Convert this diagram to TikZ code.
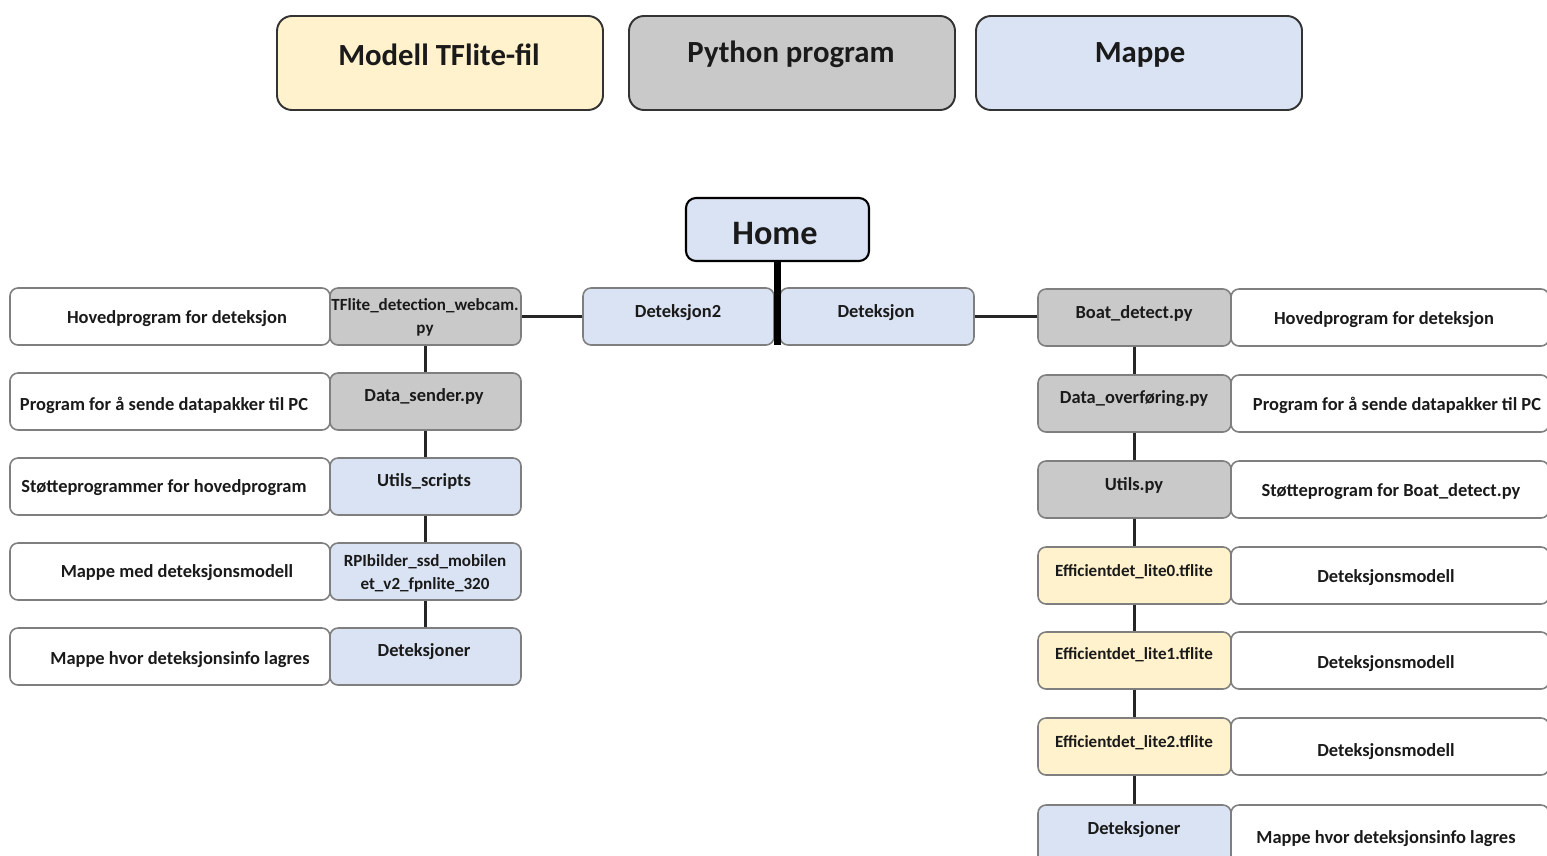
\documentclass[tikz,border=0pt]{standalone}
\usepackage{fontspec}
\setmainfont{Carlito}
\definecolor{tfy}{HTML}{FFF2CC}
\definecolor{pyg}{HTML}{C9C9C9}
\definecolor{dirb}{HTML}{DAE3F3}
\definecolor{edgegray}{HTML}{7F7F7F}
\definecolor{ink}{HTML}{1A1A1A}
% box given by its corners in pixel units
\newcommand{\bx}[6]{\node[#6, minimum width={(#4-#2)*0.02cm}, minimum height={(#5-#3)*0.02cm}] (#1) at ({(#2+#4)/2},{(#3+#5)/2}) {};}
\tikzset{
  legendbox/.style={draw=black!80, line width=1.1pt, rounded corners=0.3cm, inner sep=0},
  homebox/.style={draw=black, line width=1.2pt, rounded corners=0.2cm, fill=dirb, inner sep=0},
  itembox/.style={draw=edgegray, line width=0.9pt, rounded corners=0.16cm, inner sep=0},
  descbox/.style={itembox, fill=white},
  pybox/.style={itembox, fill=pyg},
  dirbox/.style={itembox, fill=dirb},
  tfbox/.style={itembox, fill=tfy},
  lbl/.style={font=\bfseries\fontsize{10.5}{12}\selectfont, text=ink, inner sep=0, align=center, yshift=-1pt},
  plbl/.style={lbl, font=\bfseries\fontsize{10.5}{13}\selectfont},
  slbl/.style={lbl, font=\bfseries\fontsize{9.7}{13}\selectfont},
  biglbl/.style={lbl, font=\bfseries\fontsize{17.5}{20}\selectfont},
  link/.style={line width=1.7pt, black!85},
  hublink/.style={line width=3.6pt, black},
}
\begin{document}
\begin{tikzpicture}[x=0.02cm, y=-0.02cm]
\useasboundingbox (0,0) rectangle (1547,855);
\clip (0,0) rectangle (1547,855);

% legend
\bx{lgtf}{277}{16}{603}{110}{legendbox, fill=tfy}
\bx{lgpy}{629}{16}{955}{110}{legendbox, fill=pyg}
\bx{lgdir}{976}{16}{1302}{110}{legendbox, fill=dirb}
\node[biglbl] (lgtft) at (439,53) {Modell TFlite-fil};
\node[biglbl] (lgpyt) at (791,53) {Python program};
\node[biglbl] (lgdirt) at (1140,53) {Mappe};

% root and the two project folders
\bx{home}{686}{198}{869}{261}{homebox}
\node[lbl, font=\bfseries\fontsize{19.5}{24}\selectfont] (homet) at (775,232) {Home};
\bx{det2}{583}{288}{774}{345}{dirbox}
\bx{det}{780}{288}{974}{345}{dirbox}
\node[plbl] (det2t) at (678,311) {Deteksjon2};
\node[plbl] (dett) at (876,311) {Deteksjon};
\coordinate (hub) at (777.5,345);
\draw[hublink] (home.south) -- (hub);

% Deteksjon2 column: descriptions
\bx{ld1}{10}{288}{330}{345}{descbox}
\bx{ld2}{10}{373}{330}{430}{descbox}
\bx{ld3}{10}{458}{330}{515}{descbox}
\bx{ld4}{10}{543}{330}{600}{descbox}
\bx{ld5}{10}{628}{330}{685}{descbox}
\node[lbl] at (177,317) {Hovedprogram for deteksjon};
\node[lbl] at (164,404) {Program for å sende datapakker til PC};
\node[lbl] at (164,486) {Støtteprogrammer for hovedprogram};
\node[lbl] at (177,571) {Mappe med deteksjonsmodell};
\node[lbl] at (180,658) {Mappe hvor deteksjonsinfo lagres};

% Deteksjon2 column: files and folders
\bx{tfl}{330}{288}{521}{345}{pybox}
\bx{sender}{330}{373}{521}{430}{pybox}
\bx{utils}{330}{458}{521}{515}{dirbox}
\bx{rpi}{330}{543}{521}{600}{dirbox}
\bx{detl}{330}{628}{521}{685}{dirbox}
\node[slbl] at (425,315.5) {TFlite\_detection\_webcam.\\py};
\node[plbl] at (424,395) {Data\_sender.py};
\node[plbl] at (424,480) {Utils\_scripts};
\node[slbl] at (425,572) {RPIbilder\_ssd\_mobilen\\et\_v2\_fpnlite\_320};
\node[plbl] at (424,650) {Deteksjoner};

\draw[link] (det2.west) -- (tfl.east);
\draw[link] (tfl.south) -- (sender.north);
\draw[link] (sender.south) -- (utils.north);
\draw[link] (utils.south) -- (rpi.north);
\draw[link] (rpi.south) -- (detl.north);

% Deteksjon column: descriptions
\bx{rd1}{1231}{289}{1549}{346}{descbox}
\bx{rd2}{1231}{375}{1549}{432}{descbox}
\bx{rd3}{1231}{461}{1549}{518}{descbox}
\bx{rd4}{1231}{547}{1549}{604}{descbox}
\bx{rd5}{1231}{632}{1549}{689}{descbox}
\bx{rd6}{1231}{718}{1549}{775}{descbox}
\bx{rd7}{1231}{805}{1549}{880}{descbox}
\node[lbl] at (1384,318) {Hovedprogram for deteksjon};
\node[lbl] at (1397,404) {Program for å sende datapakker til PC};
\node[lbl] at (1391,490) {Støtteprogram for Boat\_detect.py};
\node[lbl] at (1386,576) {Deteksjonsmodell};
\node[lbl] at (1386,662) {Deteksjonsmodell};
\node[lbl] at (1386,750) {Deteksjonsmodell};
\node[lbl] at (1386,837) {Mappe hvor deteksjonsinfo lagres};

% Deteksjon column: files and folders
\bx{boat}{1038}{289}{1231}{346}{pybox}
\bx{overf}{1038}{375}{1231}{432}{pybox}
\bx{utilspy}{1038}{461}{1231}{518}{pybox}
\bx{eff0}{1038}{547}{1231}{604}{tfbox}
\bx{eff1}{1038}{632}{1231}{689}{tfbox}
\bx{eff2}{1038}{718}{1231}{775}{tfbox}
\bx{detr}{1038}{805}{1231}{880}{dirbox}
\node[plbl] at (1134,312) {Boat\_detect.py};
\node[plbl] at (1134,397) {Data\_overføring.py};
\node[plbl] at (1134,484) {Utils.py};
\node[slbl] at (1134,570) {Efficientdet\_lite0.tflite};
\node[slbl] at (1134,653) {Efficientdet\_lite1.tflite};
\node[slbl] at (1134,741) {Efficientdet\_lite2.tflite};
\node[plbl] at (1134,828) {Deteksjoner};

\draw[link] (det.east) -- (det.east -| boat.west);
\draw[link] (boat.south) -- (overf.north);
\draw[link] (overf.south) -- (utilspy.north);
\draw[link] (utilspy.south) -- (eff0.north);
\draw[link] (eff0.south) -- (eff1.north);
\draw[link] (eff1.south) -- (eff2.north);
\draw[link] (eff2.south) -- (detr.north);
\end{tikzpicture}
\end{document}
